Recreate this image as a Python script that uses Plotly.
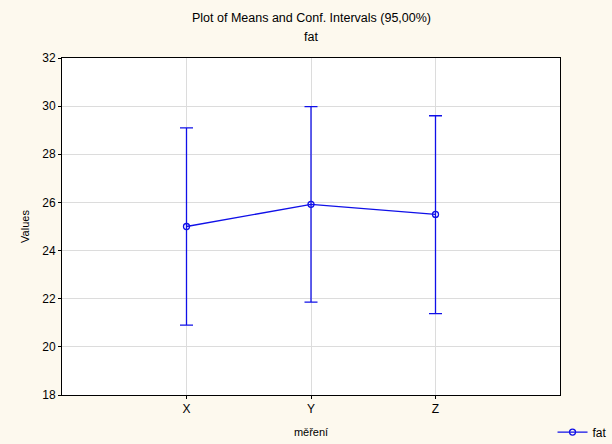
import plotly.graph_objects as go

categories = ["X", "Y", "Z"]
means = [25.0, 25.92, 25.5]
ci_upper = [29.1, 29.98, 29.6]
ci_lower = [20.9, 21.86, 21.38]
y_ticks = [18, 20, 22, 24, 26, 28, 30, 32]

err_plus = [u - m for u, m in zip(ci_upper, means)]
err_minus = [m - l for m, l in zip(means, ci_lower)]

xpos = list(range(len(categories)))
blue = "#1010e8"

fig = go.Figure()
fig.add_trace(go.Scatter(
    x=xpos, y=means, mode="lines+markers", name="fat",
    line=dict(color=blue, width=1.3),
    marker=dict(symbol="circle-open", size=6, color=blue, line=dict(width=1.3)),
    error_y=dict(type="data", symmetric=False, array=err_plus, arrayminus=err_minus,
                 color=blue, thickness=1.3, width=6.5),
))

font = "Liberation Sans, Arial, sans-serif"
fig.update_layout(
    width=612, height=444,
    paper_bgcolor="#fdf9ee", plot_bgcolor="#ffffff",
    margin=dict(l=61.5, r=52, t=58, b=49, autoexpand=False),
    font=dict(family=font, size=12, color="#000000"),
    showlegend=True,
    legend=dict(x=0.985, y=-0.11, xanchor="left", yanchor="middle",
                bgcolor="rgba(0,0,0,0)", font=dict(size=12, family=font),
                itemwidth=30),
    xaxis=dict(range=[-1, 3], tickvals=xpos, ticktext=categories,
               showgrid=True, gridcolor="#dcdcdc", gridwidth=1,
               showline=True, linecolor="#000000", linewidth=1, mirror=True,
               ticks="outside", ticklen=3, tickcolor="#000000",
               zeroline=False,
               title=dict(text="měření", font=dict(size=11), standoff=12)),
    yaxis=dict(range=[18, 32], tickvals=y_ticks,
               showgrid=True, gridcolor="#dcdcdc", gridwidth=1,
               showline=True, linecolor="#000000", linewidth=1, mirror=True,
               ticks="outside", ticklen=3, tickcolor="#000000",
               zeroline=False,
               title=dict(text="Values", font=dict(size=11), standoff=10)),
    annotations=[
        dict(text="Plot of Means and Conf. Intervals (95,00%)", xref="paper", yref="paper",
             x=0.5, y=1, yshift=40, showarrow=False, font=dict(size=12.5), yanchor="middle"),
        dict(text="fat", xref="paper", yref="paper",
             x=0.5, y=1, yshift=21, showarrow=False, font=dict(size=12.5), yanchor="middle"),
    ],
)

fig.write_html("out.html")
